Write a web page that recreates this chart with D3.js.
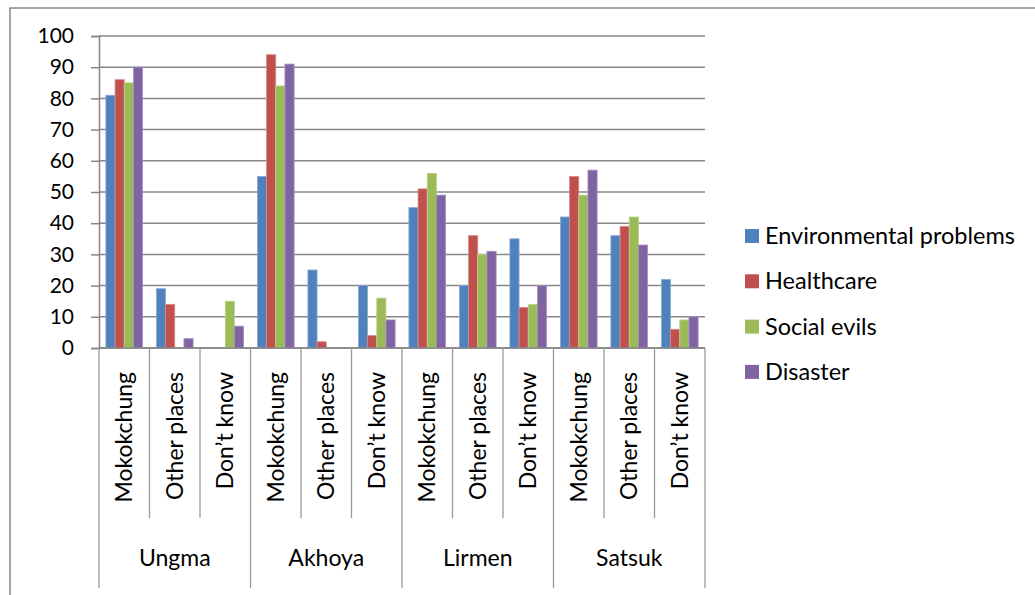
<!DOCTYPE html>
<html>
<head>
<meta charset="utf-8">
<script src="https://cdn.jsdelivr.net/npm/d3@7"></script>
<style>
  body { margin: 0; background: #fff; }
  text { font-family: Lato, "Open Sans", sans-serif; fill: #000; }
</style>
</head>
<body>
<div id="chart"></div>
<script>
var groups = ["Ungma", "Akhoya", "Lirmen", "Satsuk"];
var places = ["Mokokchung", "Other places", "Don\u2019t know"];
var seriesNames = ["Environmental problems", "Healthcare", "Social evils", "Disaster"];
var colors = ["#4F81BD", "#C0504D", "#9BBB59", "#8064A2"];
var edgeColors = ["#8AAAD4", "#D88A88", "#BCD38E", "#A690C2"];
var yTicks = [0, 10, 20, 30, 40, 50, 60, 70, 80, 90, 100];

// one row per series, 12 values: group by group, place by place
var environmental = [81, 19, 0, 55, 25, 20, 45, 20, 35, 42, 36, 22];
var healthcare    = [86, 14, 0, 94, 2, 4, 51, 36, 13, 55, 39, 6];
var socialEvils   = [85, 0, 15, 84, 0, 16, 56, 30, 14, 49, 42, 9];
var disaster      = [90, 3, 7, 91, 0, 9, 49, 31, 20, 57, 33, 10];
var seriesValues = [environmental, healthcare, socialEvils, disaster];

var W = 1035, H = 595;
var plot = {left: 99, right: 705, top: 36, bottom: 348};

var svg = d3.select("#chart")
    .append("svg")
        .attr("width", W)
        .attr("height", H);

// chart frame (runs off the right and bottom edges)
svg.append("rect")
    .attr("x", 10).attr("y", 8)
    .attr("width", W + 20).attr("height", H + 20)
    .attr("fill", "none")
    .attr("stroke", "#868686")
    .attr("stroke-width", 1.5);

var cats = [];
groups.forEach(function(g, gi) {
    places.forEach(function(p, pi) {
        cats.push({group: g, place: p, gi: gi, pi: pi, idx: gi * places.length + pi});
    });
});

var x = d3.scaleBand()
    .domain(cats.map(function(d) { return d.idx; }))
    .range([plot.left, plot.right])
    .paddingInner(0).paddingOuter(0);

var xInner = d3.scaleBand()
    .domain(d3.range(seriesNames.length))
    .range([0, x.bandwidth()])
    .paddingInner(0).paddingOuter(0.75);

var y = d3.scaleLinear()
    .domain([0, 100])
    .range([plot.bottom, plot.top]);

// gridlines
svg.append("g")
    .selectAll("line")
    .data(yTicks)
    .enter()
    .append("line")
        .attr("x1", plot.left).attr("x2", plot.right)
        .attr("y1", function(d) { return y(d); })
        .attr("y2", function(d) { return y(d); })
        .attr("stroke", "#868686")
        .attr("stroke-width", 1.5);

// y axis
var yAxis = svg.append("g")
    .attr("transform", "translate(" + plot.left + ",0)")
    .call(d3.axisLeft(y).tickValues(yTicks).tickSize(8).tickPadding(17));
yAxis.select(".domain").attr("stroke", "#868686").attr("stroke-width", 1.5);
yAxis.selectAll(".tick line").attr("stroke", "#868686").attr("stroke-width", 1.5);
yAxis.selectAll(".tick text")
    .style("font-family", "Lato, sans-serif")
    .style("font-size", "21px")
    .attr("fill", "#000");

// bars
seriesValues.forEach(function(vals, si) {
    var pts = vals.map(function(v, i) { return {v: v, i: i}; })
        .filter(function(d) { return d.v > 0; });
    svg.append("g")
        .selectAll("rect")
        .data(pts)
        .enter()
        .append("rect")
            .attr("x", function(d) { return x(d.i) + xInner(si); })
            .attr("y", function(d) { return y(d.v); })
            .attr("width", xInner.bandwidth())
            .attr("height", function(d) { return plot.bottom - y(d.v); })
            .attr("fill", colors[si])
            .attr("stroke", edgeColors[si])
            .attr("stroke-width", 0.8);
});

// x axis baseline
svg.append("line")
    .attr("x1", plot.left).attr("x2", plot.right)
    .attr("y1", plot.bottom).attr("y2", plot.bottom)
    .attr("stroke", "#868686")
    .attr("stroke-width", 1.5);

// category separators
var bounds = d3.range(cats.length + 1);
svg.append("g")
    .selectAll("line")
    .data(bounds)
    .enter()
    .append("line")
        .attr("x1", function(d) { return plot.left + d * x.step(); })
        .attr("x2", function(d) { return plot.left + d * x.step(); })
        .attr("y1", plot.bottom)
        .attr("y2", function(d) { return d % places.length === 0 ? 588 : 518; })
        .attr("stroke", "#9a9a9a")
        .attr("stroke-width", 1.3);

// place labels (rotated)
svg.append("g")
    .selectAll("text")
    .data(cats)
    .enter()
    .append("text")
        .attr("transform", function(d) {
            return "translate(" + (x(d.idx) + x.bandwidth() / 2 + 8) + ",372) rotate(-90)";
        })
        .attr("text-anchor", "end")
        .style("font-size", "23px")
        .text(function(d) { return d.place; });

// group labels
svg.append("g")
    .selectAll("text")
    .data(groups)
    .enter()
    .append("text")
        .attr("x", function(d, i) { return plot.left + (i + 0.5) * places.length * x.step(); })
        .attr("y", 566)
        .attr("text-anchor", "middle")
        .style("font-size", "23px")
        .text(function(d) { return d; });

// legend
var legend = svg.append("g")
    .selectAll("g")
    .data(seriesNames)
    .enter()
    .append("g")
        .attr("transform", function(d, i) { return "translate(745," + (236 + i * 45.3) + ")"; });
legend.append("rect")
    .attr("x", 0).attr("y", -7)
    .attr("width", 14).attr("height", 14)
    .attr("fill", function(d, i) { return colors[i]; });
legend.append("text")
    .attr("x", 20)
    .attr("y", 8)
    .style("font-size", "23.5px")
    .text(function(d) { return d; });
</script>
</body>
</html>
